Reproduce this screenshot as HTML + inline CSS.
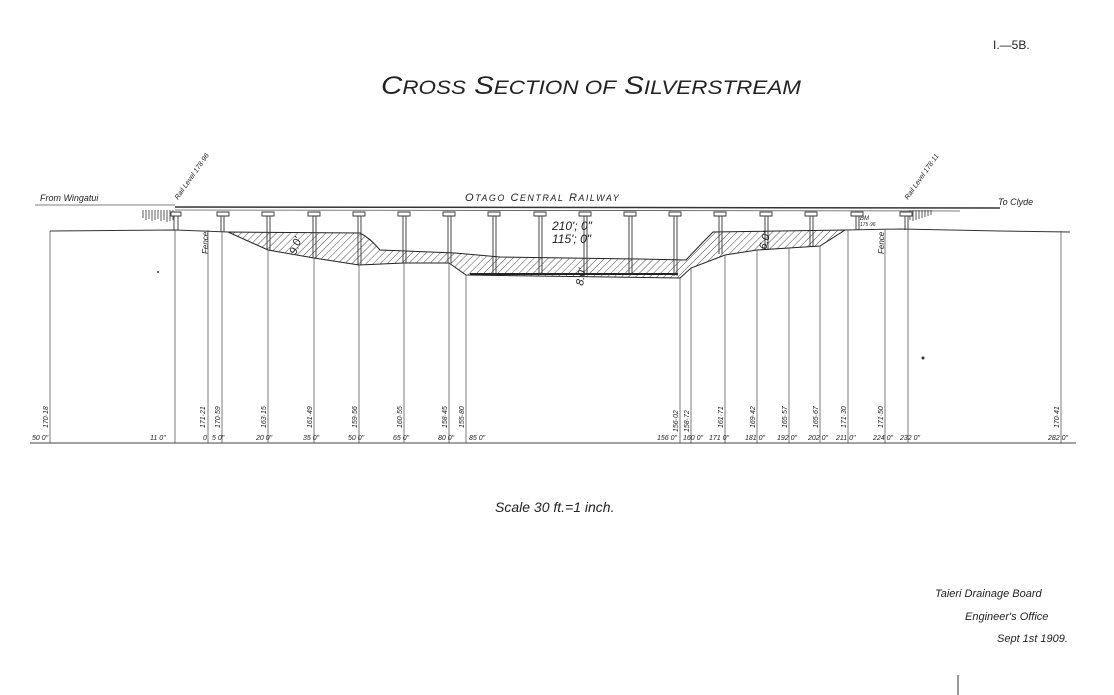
<!DOCTYPE html>
<html><head><meta charset="utf-8"><style>
html,body{margin:0;padding:0;background:#fff;}
svg{display:block;}
text{font-family:"Liberation Sans",sans-serif;font-style:italic;fill:#222;}
</style></head><body>
<svg width="1114" height="695" viewBox="0 0 1114 695" xmlns="http://www.w3.org/2000/svg">
<defs>
<pattern id="h" width="5" height="5" patternUnits="userSpaceOnUse" patternTransform="rotate(45)">
<line x1="0" y1="0" x2="0" y2="5" stroke="#333" stroke-width="0.9"/>
</pattern>
</defs>
<text x="993" y="49" font-size="12" style="font-style:normal" font-family="Liberation Serif">I.—5B.</text>
<text x="381" y="94" font-size="25" textLength="420" lengthAdjust="spacingAndGlyphs">C<tspan font-size="19">ROSS</tspan> S<tspan font-size="19">ECTION OF</tspan> S<tspan font-size="19">ILVERSTREAM</tspan></text>

<!-- rail -->
<text x="40" y="201" font-size="9">From Wingatui</text>
<line x1="35" y1="205" x2="175" y2="205" stroke="#555" stroke-width="0.8"/>
<line x1="175" y1="207" x2="1000" y2="208" stroke="#333" stroke-width="1.5"/>
<line x1="175" y1="210" x2="960" y2="211" stroke="#555" stroke-width="0.8"/>
<text x="465" y="201" font-size="11" letter-spacing="1.5">O<tspan font-size="9">TAGO</tspan>  C<tspan font-size="9">ENTRAL</tspan>  R<tspan font-size="9">AILWAY</tspan></text>
<text x="998" y="205" font-size="9">To Clyde</text>
<text transform="translate(178,200) rotate(-55)" font-size="7">Rail Level 178·96</text>
<text transform="translate(908,200) rotate(-55)" font-size="7">Rail Level 178·11</text>
<g stroke="#333" stroke-width="0.8">
<path d="M143 210v8M146 210v10M149 210v9M152 210v11M155 210v10M158 210v9M161 210v11M164 210v10M167 210v12M170 210v11M173 210v10"/>
<path d="M910 210v10M913 210v11M916 210v10M919 210v9M922 210v8M925 210v7M928 210v6M931 210v5"/>
</g>

<!-- hatched section -->
<path d="M228 232 L360 233 Q370 238 380 250 L455 253 L500 257 L640 259 L686 260 Q700 245 713 232 L845 230 L820 246 L789 248 L757 250 L725 255 L691 268 L680 278 L466 275 L449 263 L404 263 L359 265 L314 258 L268 250 Z" fill="url(#h)" stroke="#222" stroke-width="1"/>
<line x1="470" y1="274" x2="678" y2="274" stroke="#222" stroke-width="2"/>

<path d="M50 231 L175 230 L228 232 M845 230 L900 229 L1000 231 L1070 232" fill="none" stroke="#333" stroke-width="1"/>
<line x1="30" y1="443" x2="1076" y2="443" stroke="#444" stroke-width="1"/>

<g stroke="#333" stroke-width="0.9" fill="#fff">
<path d="M171 212h10v4h-10z M217 212h12v4h-12z M262 212h12v4h-12z M308 212h12v4h-12z M353 212h12v4h-12z M398 212h12v4h-12z M443 212h12v4h-12z M488 212h12v4h-12z M534 212h12v4h-12z M579 212h12v4h-12z M624 212h12v4h-12z M669 212h12v4h-12z M714 212h12v4h-12z M760 212h12v4h-12z M805 212h12v4h-12z M851 212h12v4h-12z M900 212h12v4h-12z"/>
</g>
<g stroke="#333" stroke-width="0.9">
<path d="M174 216v14M178 216v14 M221 216v16M224 216v16 M267 216v34M270 216v34 M313 216v42M316 216v42 M358 216v49M361 216v49 M403 216v47M406 216v47 M448 216v47M451 216v47 M493 216v59M496 216v59 M539 216v59M542 216v59 M584 216v59M587 216v59 M629 216v59M632 216v59 M674 216v60M677 216v60 M719 216v38M722 216v38 M765 216v34M768 216v34 M810 216v31M813 216v31 M856 216v14M859 216v14 M905 216v14M908 216v14"/>
</g>
<text x="552" y="230" font-size="12">210'; 0"</text>
<text x="552" y="243" font-size="12">115'; 0"</text>
<text transform="translate(296,255) rotate(-70)" font-size="11">9.0'</text>
<text transform="translate(766,250) rotate(-75)" font-size="11">6.0'</text>
<text transform="translate(583,286) rotate(-80)" font-size="11">8.0'</text>
<text x="860" y="220" font-size="6">BM</text>
<text x="860" y="226" font-size="5">175·96</text>
<text transform="translate(208,254) rotate(-90)" font-size="8">Fence</text>
<text transform="translate(884,254) rotate(-90)" font-size="8">Fence</text>

<g stroke="#444" stroke-width="0.7">
<path d="M50 231V443 M175 230V443 M208 230V443 M222 232V443 M268 250V443 M314 258V443 M359 265V443 M404 263V443 M449 263V443 M466 275V443 M680 278V443 M691 268V443 M725 255V443 M757 250V443 M789 248V443 M820 246V443 M848 230V443 M885 229V443 M908 229V443 M1061 231V443"/>
</g>
<g font-size="7">
<text x="32" y="440">50 0"</text>
<text x="150" y="440">11 0"</text>
<text x="203" y="440">0</text>
<text x="212" y="440">5 0"</text>
<text x="256" y="440">20 0"</text>
<text x="303" y="440">35 0"</text>
<text x="348" y="440">50 0"</text>
<text x="393" y="440">65 0"</text>
<text x="438" y="440">80 0"</text>
<text x="469" y="440">85 0"</text>
<text x="657" y="440">156 0"</text>
<text x="683" y="440">160 0"</text>
<text x="709" y="440">171 0"</text>
<text x="745" y="440">181 0"</text>
<text x="777" y="440">192 0"</text>
<text x="808" y="440">202 0"</text>
<text x="836" y="440">211 0"</text>
<text x="873" y="440">224 0"</text>
<text x="900" y="440">232 0"</text>
<text x="1048" y="440">282 0"</text>
</g>
<g font-size="7">
<text transform="translate(48,428) rotate(-90)">170·18</text>
<text transform="translate(205,428) rotate(-90)">171·21</text>
<text transform="translate(220,428) rotate(-90)">170·59</text>
<text transform="translate(266,428) rotate(-90)">163·15</text>
<text transform="translate(312,428) rotate(-90)">161·49</text>
<text transform="translate(357,428) rotate(-90)">159·56</text>
<text transform="translate(402,428) rotate(-90)">160·55</text>
<text transform="translate(447,428) rotate(-90)">158·45</text>
<text transform="translate(464,428) rotate(-90)">155·80</text>
<text transform="translate(678,432) rotate(-90)">156·02</text>
<text transform="translate(689,432) rotate(-90)">158·72</text>
<text transform="translate(723,428) rotate(-90)">161·71</text>
<text transform="translate(755,428) rotate(-90)">169·42</text>
<text transform="translate(787,428) rotate(-90)">165·57</text>
<text transform="translate(818,428) rotate(-90)">165·67</text>
<text transform="translate(846,428) rotate(-90)">171·30</text>
<text transform="translate(883,428) rotate(-90)">171·50</text>
<text transform="translate(1059,428) rotate(-90)">170·41</text>
</g>

<text x="495" y="512" font-size="14">Scale 30 ft.=1 inch.</text>

<g font-family="Liberation Serif" font-size="11" fill="#222">
<text x="935" y="597" font-style="italic">Taieri Drainage Board</text>
<text x="965" y="620" font-style="italic">Engineer's Office</text>
<text x="997" y="642" font-style="italic">Sept 1st 1909.</text>
</g>
<line x1="958" y1="675" x2="958" y2="695" stroke="#333" stroke-width="1"/>
<circle cx="158" cy="272" r="1" fill="#333"/>
<circle cx="923" cy="358" r="1.5" fill="#333"/>
</svg>
</body></html>
